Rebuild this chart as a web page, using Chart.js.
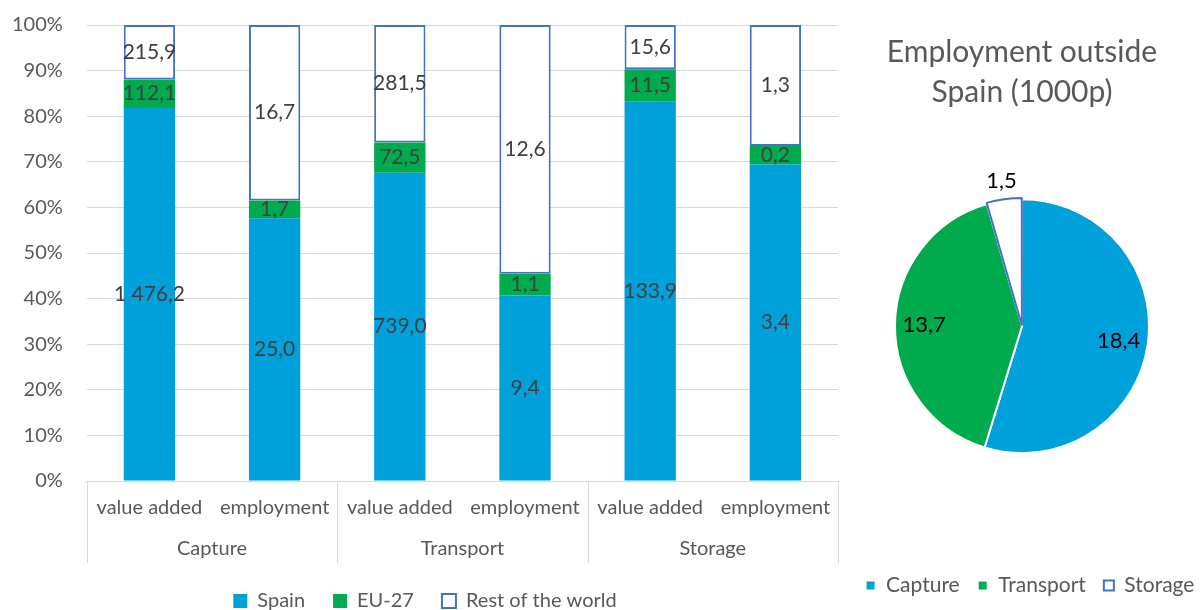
<!DOCTYPE html>
<html>
<head>
<meta charset="utf-8">
<script src="https://cdn.jsdelivr.net/npm/chart.js@4.4.1/dist/chart.umd.min.js"></script>
<style>
    html, body { margin: 0; padding: 0; background: #fff; overflow: hidden; }
    #wrap { position: relative; width: 1200px; height: 610px; overflow: hidden; }
    #barBox { position: absolute; left: 0; top: 0; width: 856px; height: 621px; }
    #pieBox { position: absolute; left: 830px; top: 0; width: 384px; height: 610px; }
</style>
</head>
<body>
<div id="wrap">
    <div id="barBox"><canvas id="graficoBarras"></canvas></div>
    <div id="pieBox"><canvas id="graficoTarta"></canvas></div>
</div>
<script>
var grupos       = ['Capture', 'Transport', 'Storage'];
var subEtiquetas = ['value added', 'employment', 'value added', 'employment', 'value added', 'employment'];
var spain        = [1476.2, 25.0, 739.0, 9.4, 133.9, 3.4];
var eu27         = [112.1, 1.7, 72.5, 1.1, 11.5, 0.2];
var restoMundo   = [215.9, 16.7, 281.5, 12.6, 15.6, 1.3];

var tartaEtiquetas = ['Capture', 'Transport', 'Storage'];
var tartaValores   = [18.4, 13.7, 1.5];

var AZUL = '#00a1da', VERDE = '#00ab4e', BORDE = '#4472c4';
var GRIS_TXT = '#595959', GRIS_LINEA = '#d9d9d9';
var FUENTE = 'Lato, "Open Sans", sans-serif';

/* 1476.2 -> "1 476,2" */
function formatoES(v) {
    var p = v.toFixed(1).split('.');
    return p[0].replace(/\B(?=(\d{3})+(?!\d))/g, ' ') + ',' + p[1];
}

/* porcentaje de cada serie sobre el total de su barra */
function porcentajes(serie) {
    return serie.map(function (v, i) {
        return v / (spain[i] + eu27[i] + restoMundo[i]) * 100;
    });
}

/* sin margen extra por las etiquetas que sobresalen del eje */
function sinRelleno(scale) {
    scale.paddingLeft = 0;
    scale.paddingRight = 0;
}

/* Chart.js reserva el padding de las marcas dos veces; quitamos uno */
function ajustarEjeY(scale) {
    scale.width -= scale.options.ticks.padding;
    scale.paddingTop = 0;
    scale.paddingBottom = 0;
}

/* texto del valor absoluto en el centro de cada tramo */
var etiquetasBarras = {
    id: 'etiquetasBarras',
    afterDatasetsDraw: function (chart) {
        var ctx = chart.ctx;
        ctx.save();
        ctx.font = '21px ' + FUENTE;
        ctx.fillStyle = '#404040';
        ctx.textAlign = 'center';
        ctx.textBaseline = 'middle';
        chart.data.datasets.forEach(function (ds, i) {
            chart.getDatasetMeta(i).data.forEach(function (bar, j) {
                ctx.fillText(formatoES(ds.brutos[j]), bar.x, (bar.y + bar.base) / 2);
            });
        });
        ctx.restore();
    }
};

/* líneas verticales que separan los grupos bajo el eje */
var separadoresGrupo = {
    id: 'separadoresGrupo',
    afterDraw: function (chart) {
        var x = chart.scales.x, x2 = chart.scales.x2;
        var porGrupo = subEtiquetas.length / grupos.length;
        var ctx = chart.ctx;
        ctx.save();
        ctx.strokeStyle = GRIS_LINEA;
        ctx.lineWidth = 1;
        for (var g = 0; g <= grupos.length; g++) {
            var px = Math.round(x.getPixelForValue(g * porGrupo - 0.5)) + 0.5;
            ctx.beginPath();
            ctx.moveTo(px, x.top);
            ctx.lineTo(px, x2.bottom);
            ctx.stroke();
        }
        ctx.restore();
    }
};

var _chartBarras = new Chart(document.getElementById('graficoBarras'), {
    type: 'bar',
    data: {
        labels: subEtiquetas,
        datasets: [
            { label: 'Spain', data: porcentajes(spain), brutos: spain,
              backgroundColor: AZUL, borderWidth: 0 },
            { label: 'EU-27', data: porcentajes(eu27), brutos: eu27,
              backgroundColor: VERDE, borderWidth: 0 },
            { label: 'Rest of the world', data: porcentajes(restoMundo), brutos: restoMundo,
              backgroundColor: '#ffffff', borderColor: BORDE, borderWidth: 2, borderSkipped: false }
        ]
    },
    options: {
        responsive: true,
        maintainAspectRatio: false,
        animation: false,
        categoryPercentage: 1,
        barPercentage: 0.41,
        layout: { padding: { left: 12, right: 18, top: 25, bottom: 0 } },
        plugins: {
            tooltip: { enabled: false },
            legend: {
                position: 'bottom',
                labels: {
                    color: GRIS_TXT,
                    font: { family: FUENTE, size: 20 },
                    boxWidth: 14, boxHeight: 14, padding: 28
                }
            }
        },
        scales: {
            x: {
                stacked: true,
                afterFit: sinRelleno,
                grid: { display: false, drawTicks: false },
                border: { display: true, color: GRIS_LINEA },
                ticks: { color: GRIS_TXT, font: { family: FUENTE, size: 20 }, padding: 15, maxRotation: 0 }
            },
            x2: {
                type: 'category',
                labels: grupos,
                position: 'bottom',
                offset: true,
                afterFit: sinRelleno,
                grid: { display: false, drawTicks: false },
                border: { display: false },
                ticks: { color: GRIS_TXT, font: { family: FUENTE, size: 20 }, padding: 2, maxRotation: 0 }
            },
            y: {
                stacked: true,
                min: 0, max: 100,
                afterFit: ajustarEjeY,
                grid: { color: GRIS_LINEA, drawTicks: false },
                border: { display: false },
                ticks: {
                    stepSize: 10, padding: 24, color: GRIS_TXT,
                    font: { family: FUENTE, size: 20 },
                    callback: function (v) { return v + '%'; }
                }
            }
        }
    },
    plugins: [etiquetasBarras, separadoresGrupo]
});

/* valores de la tarta: dentro de los sectores grandes, fuera del pequeño */
var etiquetasTarta = {
    id: 'etiquetasTarta',
    afterDatasetsDraw: function (chart) {
        var ctx = chart.ctx;
        var total = tartaValores.reduce(function (a, b) { return a + b; }, 0);
        ctx.save();
        ctx.font = '22px ' + FUENTE;
        ctx.fillStyle = '#000000';
        ctx.textAlign = 'center';
        ctx.textBaseline = 'middle';
        chart.getDatasetMeta(0).data.forEach(function (arc, i) {
            var p = arc.getProps(['x', 'y', 'startAngle', 'endAngle', 'outerRadius'], true);
            var medio = (p.startAngle + p.endAngle) / 2;
            var r = tartaValores[i] / total < 0.1 ? p.outerRadius + 20 : p.outerRadius * 0.77;
            ctx.fillText(formatoES(tartaValores[i]), p.x + Math.cos(medio) * r, p.y + Math.sin(medio) * r);
        });
        ctx.restore();
    }
};

/* la leyenda de la tarta va algo desplazada a la derecha */
var desplazarLeyenda = {
    id: 'desplazarLeyenda',
    afterLayout: function (chart) {
        chart.legend.left += 8;
        chart.legend.right += 8;
    }
};

var _chartTarta = new Chart(document.getElementById('graficoTarta'), {
    type: 'pie',
    data: {
        labels: tartaEtiquetas,
        datasets: [{
            data: tartaValores,
            backgroundColor: [AZUL, VERDE, '#ffffff'],
            borderColor: ['#ffffff', '#ffffff', BORDE],
            borderWidth: 2,
            offset: [0, 0, 3]
        }]
    },
    options: {
        responsive: true,
        maintainAspectRatio: false,
        animation: false,
        radius: 127,
        layout: { padding: { top: 0, bottom: 4, left: 0, right: 0 } },
        plugins: {
            tooltip: { enabled: false },
            title: {
                display: true,
                text: ['Employment outside', 'Spain (1000p)'],
                color: GRIS_TXT,
                font: { family: FUENTE, size: 30, weight: 'normal', lineHeight: 1.33 },
                padding: { top: 32, bottom: 0 }
            },
            legend: {
                position: 'bottom',
                title: { display: true, text: '', padding: { top: 2, bottom: 0 } },
                labels: {
                    color: GRIS_TXT,
                    font: { family: FUENTE, size: 21 },
                    boxWidth: 10, boxHeight: 10, padding: 18
                }
            }
        }
    },
    plugins: [etiquetasTarta, desplazarLeyenda]
});
</script>
</body>
</html>
